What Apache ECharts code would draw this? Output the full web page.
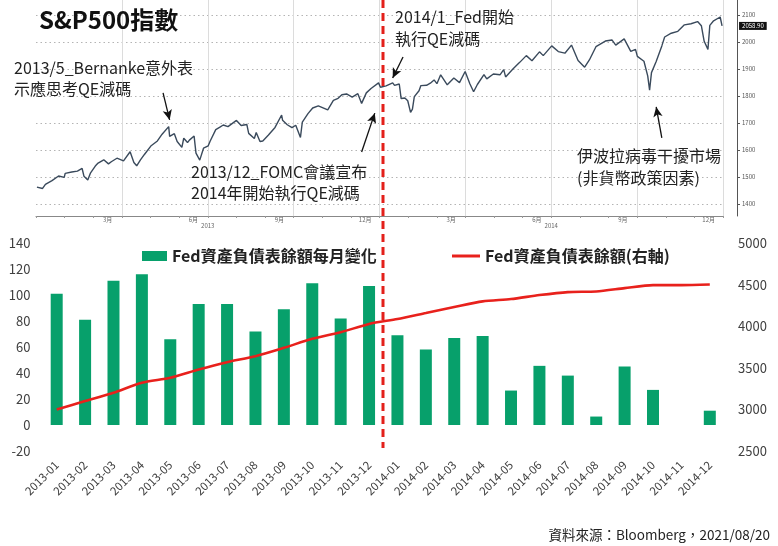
<!DOCTYPE html>
<html>
<head>
<meta charset="utf-8">
<script src="https://cdn.jsdelivr.net/npm/echarts@6/dist/echarts.min.js"></script>
<style>
html,body{margin:0;padding:0;background:#fff;}
#c{width:778px;height:546px;}
</style>
</head>
<body>
<div id="c"></div>
<script>
// ---------- S&P500 (top panel) ----------
const spxDates = [
'2013-01-02','2013-01-04','2013-01-08','2013-01-11','2013-01-18','2013-01-25','2013-01-31','2013-02-01','2013-02-08','2013-02-14','2013-02-19','2013-02-21','2013-02-25','2013-02-28',
'2013-03-05','2013-03-08','2013-03-14','2013-03-19','2013-03-22','2013-03-28','2013-04-04','2013-04-05','2013-04-11','2013-04-15','2013-04-18','2013-04-22','2013-04-26',
'2013-05-03','2013-05-10','2013-05-15','2013-05-22','2013-05-23','2013-05-28','2013-05-31','2013-06-05','2013-06-07','2013-06-11','2013-06-13','2013-06-18','2013-06-20','2013-06-24','2013-06-28',
'2013-07-03','2013-07-05','2013-07-11','2013-07-15','2013-07-19','2013-07-24','2013-08-02','2013-08-07','2013-08-13','2013-08-15','2013-08-21','2013-08-23','2013-08-27','2013-08-30',
'2013-09-05','2013-09-12','2013-09-19','2013-09-20','2013-09-25','2013-09-30','2013-10-04','2013-10-09','2013-10-11','2013-10-17','2013-10-22','2013-10-28','2013-10-30',
'2013-11-07','2013-11-13','2013-11-18','2013-11-22','2013-11-27','2013-12-03','2013-12-09','2013-12-13','2013-12-18','2013-12-23','2013-12-31',
'2014-01-02','2014-01-08','2014-01-15','2014-01-17','2014-01-22','2014-01-24','2014-01-28','2014-01-31','2014-02-03','2014-02-05','2014-02-07','2014-02-12','2014-02-14','2014-02-20','2014-02-24','2014-02-28',
'2014-03-03','2014-03-07','2014-03-14','2014-03-21','2014-03-27','2014-04-02','2014-04-07','2014-04-11','2014-04-15','2014-04-22','2014-04-25',
'2014-05-02','2014-05-09','2014-05-13','2014-05-15','2014-05-23','2014-05-30','2014-06-06','2014-06-12','2014-06-20','2014-06-24','2014-07-03','2014-07-10','2014-07-17','2014-07-24','2014-07-31',
'2014-08-07','2014-08-12','2014-08-19','2014-08-29','2014-09-05','2014-09-09','2014-09-18','2014-09-19','2014-09-25','2014-09-30','2014-10-02','2014-10-09','2014-10-13','2014-10-15','2014-10-17','2014-10-22','2014-10-28','2014-10-31',
'2014-11-07','2014-11-14','2014-11-21','2014-11-28','2014-12-05','2014-12-09','2014-12-12','2014-12-16','2014-12-18','2014-12-22','2014-12-29','2014-12-31'
];
const spxValues = [
1462,1466,1457,1472,1486,1503,1498,1513,1518,1521,1531,1502,1488,1515,
1540,1551,1563,1548,1556,1569,1559,1553,1593,1553,1541,1563,1582,
1614,1633,1658,1686,1650,1660,1631,1609,1643,1627,1636,1651,1588,1562,1606,
1615,1632,1675,1683,1692,1686,1709,1690,1694,1661,1642,1664,1631,1633,
1655,1683,1729,1710,1693,1682,1691,1646,1703,1734,1755,1763,1763,
1748,1783,1791,1804,1807,1795,1808,1772,1811,1827,1848,
1832,1837,1848,1839,1844,1790,1792,1782,1739,1751,1797,1819,1838,1839,1847,1859,
1845,1878,1841,1866,1849,1890,1845,1815,1842,1879,1863,
1881,1878,1897,1870,1900,1924,1949,1930,1963,1949,1985,1964,1958,1988,1931,
1906,1933,1982,2003,2007,1988,2011,2010,1965,1972,1946,1928,1874,1821,1886,1927,1985,2018,
2032,2039,2063,2067,2075,2060,2002,1972,2061,2078,2092,2059
];
const spxTicks = [1400,1500,1600,1700,1800,1900,2000,2100];
const spxMonths = ['2013-01','2013-02','2013-03','2013-04','2013-05','2013-06','2013-07','2013-08','2013-09','2013-10','2013-11','2013-12',
                   '2014-01','2014-02','2014-03','2014-04','2014-05','2014-06','2014-07','2014-08','2014-09','2014-10','2014-11','2014-12'];
const spxYears = ['2013','2014'];

// ---------- Fed balance sheet (bottom panel) ----------
const months = ['2013-01','2013-02','2013-03','2013-04','2013-05','2013-06','2013-07','2013-08','2013-09','2013-10','2013-11','2013-12',
                '2014-01','2014-02','2014-03','2014-04','2014-05','2014-06','2014-07','2014-08','2014-09','2014-10','2014-11','2014-12'];
const monthlyChange = [101,81,111,116,66,93,93,72,89,109,82,107,69,58,67,68.5,26.5,45.5,38,6.5,45,27,0,11];
const balance = [3000,3100,3200,3320,3380,3480,3568,3640,3740,3848,3927,4027,4087,4159,4231,4298,4326,4374,4410,4418,4458,4494,4494,4501];

const FONT = '"Noto Sans CJK TC", "Noto Sans", sans-serif';
const chart = echarts.init(document.getElementById('c'), null, {renderer:'canvas'});

function arrow(a, b){
  return [
    {coord:a, symbol:'none'},
    {coord:b, symbol:'arrow', symbolSize:[7,10]}
  ];
}
const plain = (v) => String(v);

chart.setOption({
  animation:false,
  backgroundColor:'#fff',
  textStyle:{fontFamily:FONT},
  title:{text:'S&P500指數', left:34, top:3, textStyle:{fontSize:24, fontWeight:'bold', color:'#111', fontFamily:FONT}},
  legend:[
    {show:true, left:137, top:243, itemWidth:25, itemHeight:10, selectedMode:false,
     data:[{name:'Fed資產負債表餘額每月變化', icon:'rect'}],
     textStyle:{fontSize:16, fontWeight:'bold', color:'#222', fontFamily:FONT}},
    {show:true, left:447, top:243, itemWidth:28, itemHeight:3, selectedMode:false,
     data:[{name:'Fed資產負債表餘額(右軸)', icon:'rect'}],
     textStyle:{fontSize:16, fontWeight:'bold', color:'#222', fontFamily:FONT}}
  ],
  grid:[
    {left:36, right:55, top:0, bottom:330, outerBoundsMode:'none', containLabel:false},
    {left:42.5, right:54, top:243, bottom:95, outerBoundsMode:'none', containLabel:false}
  ],
  xAxis:[
    {type:'time', gridIndex:0, min:'2013-01-01', max:'2015-01-01', show:false},
    {type:'category', gridIndex:0, data:spxMonths, position:'bottom', boundaryGap:true,
     axisLine:{show:true, lineStyle:{color:'#888', width:1}},
     axisTick:{show:true, interval:0, length:2, lineStyle:{color:'#999'}},
     axisLabel:{show:true, interval:0, margin:1, fontSize:6, color:'#666',
       formatter:(v)=>{const m = +v.slice(5); return m % 3 === 0 ? m + '月' : '';}},
     splitLine:{show:true, interval:(i)=> i>0 && i%3===0, lineStyle:{color:'#dcdcdc', width:1}}},
    {type:'category', gridIndex:0, data:spxYears, position:'bottom', offset:6, boundaryGap:true,
     axisLine:{show:false}, axisTick:{show:false}, splitLine:{show:false},
     axisLabel:{show:true, interval:0, margin:1, fontSize:6, color:'#666'}},
    {type:'category', gridIndex:1, data:months, boundaryGap:true,
     axisLine:{show:false}, axisTick:{show:false},
     axisLabel:{interval:0, rotate:45, fontSize:11.5, color:'#404040', margin:12, fontFamily:FONT}}
  ],
  yAxis:[
    {type:'value', gridIndex:0, position:'right', offset:14, min:1355, max:2155,
     axisLine:{show:true, lineStyle:{color:'#555', width:1}},
     axisTick:{show:true, customValues:spxTicks, length:3, lineStyle:{color:'#555'}},
     axisLabel:{show:true, customValues:spxTicks, fontSize:6, color:'#555', margin:5, formatter:plain},
     splitLine:{show:true, lineStyle:{color:'#b4b4b4', type:[1.5,3], width:1}}},
    {type:'value', gridIndex:1, position:'left', min:-20, max:140, interval:20,
     axisLine:{show:false}, axisTick:{show:false}, splitLine:{show:false},
     axisLabel:{fontSize:13, color:'#404040', margin:12, fontFamily:FONT, formatter:plain}},
    {type:'value', gridIndex:1, position:'right', min:2500, max:5000, interval:500,
     axisLine:{show:false}, axisTick:{show:false}, splitLine:{show:false},
     axisLabel:{fontSize:13, color:'#404040', margin:14, fontFamily:FONT, formatter:plain}}
  ],
  series:[
    {name:'S&P500', type:'line', xAxisIndex:0, yAxisIndex:0, silent:true,
     data: spxDates.map((d,i)=>[d, spxValues[i]]),
     showSymbol:false, lineStyle:{color:'#3a4a5c', width:1.4},
     endLabel:{show:true, formatter:'2058.90', distance:17, backgroundColor:'#111', color:'#fff', fontSize:6, padding:[1,3]},
     markLine:{silent:true, symbol:['none','arrow'], label:{show:false},
       lineStyle:{color:'#111', width:1.3, type:'solid'},
       data: [
         arrow(['2013-05-16',1811], ['2013-05-23',1711]),
         arrow(['2013-12-13',1592], ['2013-12-27',1736]),
         arrow(['2014-01-26',1944], ['2014-01-15',1866]),
         arrow(['2014-10-28',1644], ['2014-10-22',1759])
       ]}
    },
    {name:'Fed資產負債表餘額每月變化', type:'bar', xAxisIndex:3, yAxisIndex:1,
     data:monthlyChange, barWidth:12, itemStyle:{color:'#07a06b'}},
    {name:'Fed資產負債表餘額(右軸)', type:'line', xAxisIndex:3, yAxisIndex:2,
     data:balance, smooth:0.25, showSymbol:false, lineStyle:{color:'#e8211c', width:2.6}, itemStyle:{color:'#e8211c'}}
  ],
  graphic:[
    {type:'text', left:14, top:57, z:50, style:{text:'2013/5_Bernanke意外表\n示應思考QE減碼', font:'16px '+FONT, fill:'#222', lineHeight:21}},
    {type:'text', left:191, top:161, z:50, style:{text:'2013/12_FOMC會議宣布\n2014年開始執行QE減碼', font:'16px '+FONT, fill:'#222', lineHeight:21}},
    {type:'text', left:395, top:6, z:50, style:{text:'2014/1_Fed開始\n執行QE減碼', font:'16px '+FONT, fill:'#222', lineHeight:22}},
    {type:'text', left:577, top:145, z:50, style:{text:'伊波拉病毒干擾市場\n(非貨幣政策因素)', font:'16px '+FONT, fill:'#222', lineHeight:22}},
    {type:'line', z:100, shape:{x1:383, y1:0, x2:383, y2:448}, style:{stroke:'#e3201b', lineWidth:3, lineDash:[8,5]}},
    {type:'text', right:8, top:528, z:50, style:{text:'資料來源：Bloomberg，2021/08/20', font:'13.5px '+FONT, fill:'#222'}}
  ]
});
</script>
</body>
</html>
